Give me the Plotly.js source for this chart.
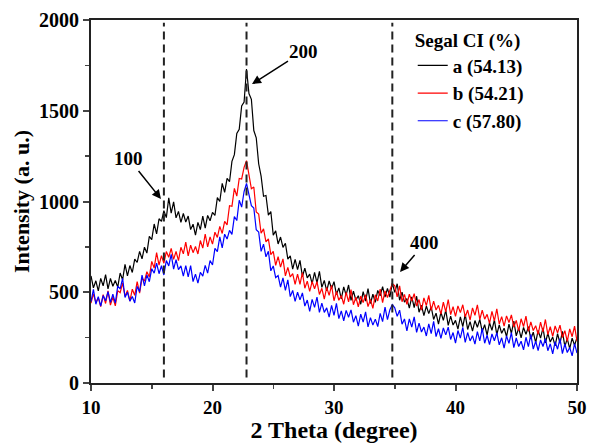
<!DOCTYPE html>
<html>
<head>
<meta charset="utf-8">
<script src="https://cdn.plot.ly/plotly-3.0.1.min.js"></script>
<style>html,body{margin:0;padding:0;background:#fff}#chart{width:590px;height:443px}</style>
</head>
<body>
<div id="chart"></div>
<script>
// 2-theta grid: start and step (degrees)
const thetaStart = 10;
const thetaStep = 0.2;

const seriesNames = ["a (54.13)", "b (54.21)", "c (57.80)"];

const intensityA = [590,524,563,507,576,535,597,519,576,533,565,528,606,568,654,590,647,609,683,664,725,684,748,716,808,790,876,822,905,890,950,911,1020,936,998,910,945,885,934,887,920,845,875,815,885,845,919,853,923,894,940,923,1021,1000,1100,1050,1127,1109,1221,1258,1375,1398,1526,1548,1730,1595,1563,1391,1351,1208,1140,1029,1033,925,945,815,838,766,804,747,770,683,701,627,681,625,676,587,633,579,600,547,610,552,615,527,565,508,562,520,558,488,524,464,530,485,540,455,506,456,481,434,503,451,520,438,489,444,510,480,531,473,521,473,550,499,547,456,500,445,465,412,474,416,478,390,428,371,424,382,420,350,385,325,390,345,401,317,368,319,345,297,364,311,378,295,338,286,344,307,350,283,321,264,332,290,348,267,320,274,302,256,324,273,341,260,302,249,306,268,310,242,280,222,290,247,304,221,274,226,253,205,272,218,285,202,244,190,247,208,250];

const intensityB = [440,491,443,469,421,487,438,508,429,474,425,509,498,551,478,510,451,517,483,559,495,578,561,613,584,670,634,718,649,702,660,724,693,742,681,725,674,748,712,776,700,759,718,752,711,785,743,821,750,805,765,831,802,863,824,890,871,977,974,1072,1030,1127,1124,1188,1225,1140,1070,1080,942,931,825,849,778,794,707,725,648,696,638,684,590,637,584,603,544,600,544,608,522,561,505,559,519,558,488,522,462,527,483,538,453,504,456,482,434,500,447,514,431,473,420,479,443,487,421,460,411,486,452,517,443,507,471,511,548,535,475,535,448,488,433,489,451,492,424,460,402,469,426,483,400,451,402,428,379,445,392,460,377,420,367,425,388,431,364,402,346,414,373,431,350,401,352,378,329,395,342,408,325,366,313,370,333,375,308,345,287,354,311,368,285,337,289,316,268,335,282,350,267,310,257,314,276,319,251,288,230,298,255,313,230];

const intensityC = [448,516,434,476,424,482,453,503,444,489,440,534,518,577,471,500,451,477,441,532,503,594,535,596,558,630,605,660,602,646,595,675,645,709,627,680,625,645,589,647,585,647,559,600,550,610,589,648,605,675,650,742,724,805,745,820,793,841,819,917,895,1007,969,1055,1100,1040,977,964,844,832,725,765,695,726,618,645,581,592,528,579,510,568,476,510,450,500,458,496,424,457,395,461,417,473,389,440,389,414,363,428,372,439,355,397,343,400,362,403,335,371,313,379,336,392,309,360,319,352,311,384,338,418,349,404,432,414,367,401,324,353,287,353,308,364,279,330,281,308,259,326,272,339,256,299,246,303,265,308,240,278,220,289,247,306,224,278,232,261,214,283,232,301,219,263,211,270,233,277,210,249,192,260,218,277,195,248,201,230,183,252,200,268,187,230,179,237,201,244,178,216,160,228,186,244,162,215,168,196,149,217,165];

const seriesColors = ["#000000", "#ff0000", "#0000ff"];

// reflection positions (degrees) for dashed guides
const peakPositions = [16.0, 22.8, 34.8];
// annotation labels and arrow tips (data coordinates)
const peakLabels = ["100", "200", "400"];
const peakArrowX = [15.76, 23.25, 35.43];
const peakArrowY = [1014, 1647, 612];

const xTickVals = [10, 20, 30, 40, 50];
const yTickVals = [0, 500, 1000, 1500, 2000];

const serif = "'Liberation Serif', 'Times New Roman', serif";
const allY = [intensityA, intensityB, intensityC];
const boldText = v => "<b>" + v + "</b>";

const traces = allY.map((ys, i) => ({
  type: "scatter",
  mode: "lines",
  x0: thetaStart,
  dx: thetaStep,
  y: ys,
  name: boldText(seriesNames[i]),
  line: {color: seriesColors[i], width: 1.2}
}));

const shapes = peakPositions.map(p => ({
  type: "line", xref: "x", yref: "y",
  x0: p, x1: p, y0: 30, y1: 1985,
  line: {color: "#222", width: 2, dash: "8px,5px"},
  layer: "above"
}));

const annOffsets = [[-32, -40], [52, -33], [25, -29]];
const annotations = peakLabels.map((t, i) => ({
  x: peakArrowX[i], y: peakArrowY[i], xref: "x", yref: "y",
  text: boldText(t), showarrow: true, arrowhead: 2, arrowsize: 1.2, arrowwidth: 1.5,
  arrowcolor: "#000", ax: annOffsets[i][0], ay: annOffsets[i][1],
  font: {family: serif, size: 19, color: "#000"}
}));

const layout = {
  width: 590, height: 443,
  margin: {l: 91, r: 13, t: 20, b: 60},
  paper_bgcolor: "#fff", plot_bgcolor: "#fff",
  font: {family: serif, size: 19, color: "#000"},
  showlegend: true,
  legend: {
    x: 0.662, y: 0.995, xanchor: "left", yanchor: "top",
    bgcolor: "rgba(0,0,0,0)",
    title: {text: boldText("Segal CI (%)"), side: "top", font: {family: serif, size: 19}},
    font: {family: serif, size: 19},
    tracegroupgap: 0
  },
  xaxis: {
    range: [10, 50], tickvals: xTickVals, ticktext: xTickVals.map(boldText),
    ticks: "outside", ticklen: 6, tickwidth: 2,
    showline: true, linewidth: 2, linecolor: "#222", mirror: true, showgrid: false, zeroline: false,
    minor: {dtick: 5, ticks: "outside", ticklen: 4, tickwidth: 1.5, showgrid: false},
    tickfont: {family: serif, size: 19},
    title: {text: boldText("2 Theta (degree)"), font: {family: serif, size: 24}, standoff: 9}
  },
  yaxis: {
    range: [0, 2000], tickvals: yTickVals, ticktext: yTickVals.map(boldText),
    ticks: "outside", ticklen: 6, tickwidth: 2,
    showline: true, linewidth: 2, linecolor: "#222", mirror: true, showgrid: false, zeroline: false,
    minor: {dtick: 250, ticks: "outside", ticklen: 4, tickwidth: 1.5, showgrid: false},
    tickfont: {family: serif, size: 20},
    title: {text: boldText("Intensity (a. u.)"), font: {family: serif, size: 22}, standoff: 3}
  },
  shapes: shapes,
  annotations: annotations
};

Plotly.newPlot("chart", traces, layout, {staticPlot: true, displayModeBar: false});
</script>
</body>
</html>
